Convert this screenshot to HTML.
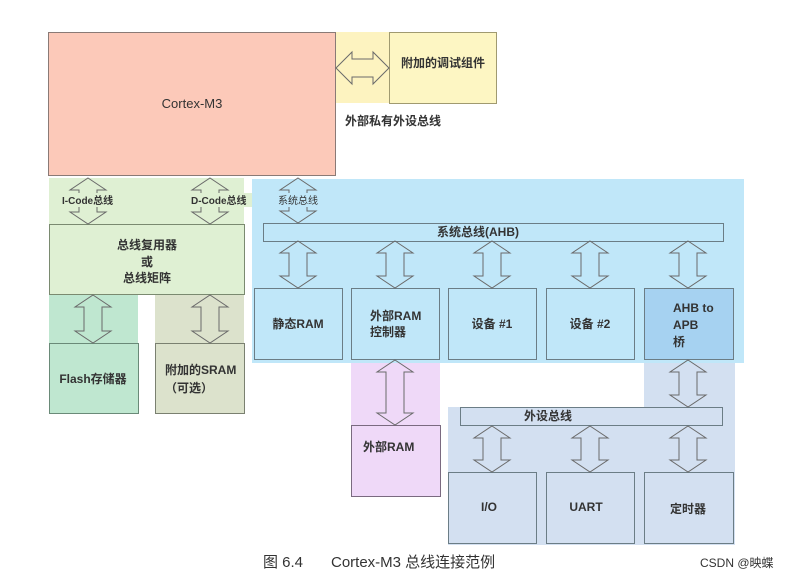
<!DOCTYPE html>
<html><head><meta charset="utf-8"><style>
html,body{margin:0;padding:0;background:#fff;}
svg{display:block;}
text{font-family:"Liberation Sans","Noto Sans CJK SC",sans-serif;fill:#333;}
.b{font-weight:bold;font-size:12px;}
</style></head><body>
<svg width="789" height="576" viewBox="0 0 789 576" xmlns="http://www.w3.org/2000/svg">
<!-- region backgrounds -->
<rect x="336" y="32" width="53" height="71" fill="#fdf3c0"/>
<rect x="49" y="178" width="195" height="46" fill="#dff0d3"/>
<rect x="49" y="294" width="89" height="49" fill="#bfe7d0"/>
<rect x="155" y="294" width="89" height="49" fill="#dce2cc"/>
<rect x="252" y="179" width="492" height="184" fill="#c0e7f9"/>
<rect x="351" y="363" width="89" height="62" fill="#efd9f8"/>
<rect x="644" y="363" width="91" height="44" fill="#d3e0f1"/>
<rect x="448" y="407" width="287" height="138" fill="#d3e0f1"/>

<g stroke="#6b7d86" stroke-width="1">
<rect x="48.5" y="32.5" width="287" height="143" fill="#fcc9b9" stroke="#8a7a76"/>
<rect x="389.5" y="32.5" width="107" height="71" fill="#fdf6c3" stroke="#a09a70"/>
<rect x="49.5" y="224.5" width="195" height="70" fill="#dff0d3" stroke="#7a8a70"/>
<rect x="49.5" y="343.5" width="89" height="70" fill="#bfe7d0" stroke="#6a8a78"/>
<rect x="155.5" y="343.5" width="89" height="70" fill="#dce2cc" stroke="#7a8070"/>
<rect x="263.5" y="223.5" width="460" height="18" fill="#c0e7f9"/>
<rect x="254.5" y="288.5" width="88" height="71" fill="#c0e7f9"/>
<rect x="351.5" y="288.5" width="88" height="71" fill="#c0e7f9"/>
<rect x="448.5" y="288.5" width="88" height="71" fill="#c0e7f9"/>
<rect x="546.5" y="288.5" width="88" height="71" fill="#c0e7f9"/>
<rect x="644.5" y="288.5" width="89" height="71" fill="#a6d2f1"/>
<rect x="351.5" y="425.5" width="89" height="71" fill="#efd9f8" stroke="#7a6a80"/>
<rect x="460.5" y="407.5" width="262" height="18" fill="#d3e0f1"/>
<rect x="448.5" y="472.5" width="88" height="71" fill="#d3e0f1"/>
<rect x="546.5" y="472.5" width="88" height="71" fill="#d3e0f1"/>
<rect x="644.5" y="472.5" width="89" height="71" fill="#d3e0f1"/>
</g>

<!-- arrows -->
<g fill="none" stroke="#6a6a6a" stroke-width="1">
<polygon points="336,68 352,52 352,59 373,59 373,52 389,68 373,84 373,77 352,77 352,84"/>
<polygon points="88,178 106,190 97,190 97,212 106,212 88,224 70,212 79,212 79,190 70,190"/>
<polygon points="210,178 228,190 219,190 219,212 228,212 210,224 192,212 201,212 201,190 192,190"/>
<polygon points="298,178 316,190 307,190 307,211 316,211 298,223 280,211 289,211 289,190 280,190"/>
<polygon points="298,241 316,253 307,253 307,276 316,276 298,288 280,276 289,276 289,253 280,253"/>
<polygon points="395,241 413,253 404,253 404,276 413,276 395,288 377,276 386,276 386,253 377,253"/>
<polygon points="492,241 510,253 501,253 501,276 510,276 492,288 474,276 483,276 483,253 474,253"/>
<polygon points="590,241 608,253 599,253 599,276 608,276 590,288 572,276 581,276 581,253 572,253"/>
<polygon points="688,241 706,253 697,253 697,276 706,276 688,288 670,276 679,276 679,253 670,253"/>
<polygon points="93,295 111,307 102,307 102,331 111,331 93,343 75,331 84,331 84,307 75,307"/>
<polygon points="210,295 228,307 219,307 219,331 228,331 210,343 192,331 201,331 201,307 192,307"/>
<polygon points="395,360 413,372 404,372 404,413 413,413 395,425 377,413 386,413 386,372 377,372"/>
<polygon points="688,360 706,372 697,372 697,395 706,395 688,407 670,395 679,395 679,372 670,372"/>
<polygon points="492,426 510,438 501,438 501,460 510,460 492,472 474,460 483,460 483,438 474,438"/>
<polygon points="590,426 608,438 599,438 599,460 608,460 590,472 572,460 581,460 581,438 572,438"/>
<polygon points="688,426 706,438 697,438 697,460 706,460 688,472 670,460 679,460 679,438 670,438"/>
</g>
<!-- label backgrounds on arrows -->
<rect x="62" y="193" width="56" height="14" fill="#dff0d3"/>
<rect x="190" y="193" width="62" height="14" fill="#dff0d3"/>
<rect x="278" y="193" width="42" height="14" fill="#c0e7f9"/>

<!-- text -->
<text x="192" y="108" font-size="13" text-anchor="middle" fill="#7a3b2e">Cortex-M3</text>
<text x="443" y="67" font-size="12" text-anchor="middle" class="b">附加的调试组件</text>
<text x="345" y="125" class="b">外部私有外设总线</text>
<text x="62" y="204" font-size="10" font-weight="bold">I-Code总线</text>
<text x="191" y="204" font-size="10" font-weight="bold">D-Code总线</text>
<text x="278" y="204" font-size="10">系统总线</text>
<text x="147" y="249" text-anchor="middle" class="b">总线复用器</text>
<text x="147" y="266" text-anchor="middle" class="b">或</text>
<text x="147" y="282" text-anchor="middle" class="b">总线矩阵</text>
<text x="93" y="383" text-anchor="middle" class="b">Flash存储器</text>
<text x="165" y="374" class="b">附加的SRAM</text>
<text x="165" y="392" class="b">（可选）</text>
<text x="478" y="236" text-anchor="middle" class="b">系统总线(AHB)</text>
<text x="298" y="328" text-anchor="middle" class="b">静态RAM</text>
<text x="370" y="320" class="b">外部RAM</text>
<text x="370" y="336" class="b">控制器</text>
<text x="492" y="328" text-anchor="middle" class="b">设备 #1</text>
<text x="590" y="328" text-anchor="middle" class="b">设备 #2</text>
<text x="673" y="312" class="b">AHB to</text>
<text x="673" y="329" class="b">APB</text>
<text x="673" y="346" class="b">桥</text>
<text x="363" y="451" class="b">外部RAM</text>
<text x="548" y="420" text-anchor="middle" class="b">外设总线</text>
<text x="489" y="511" text-anchor="middle" class="b">I/O</text>
<text x="586" y="511" text-anchor="middle" class="b">UART</text>
<text x="688" y="513" text-anchor="middle" class="b">定时器</text>
<text x="263" y="567" font-size="15" fill="#222">图 6.4</text>
<text x="331" y="567" font-size="15" fill="#222">Cortex-M3 总线连接范例</text>
<text x="700" y="567" font-size="12" fill="#aaa">CSDN @映蝶</text>
</svg>
</body></html>
